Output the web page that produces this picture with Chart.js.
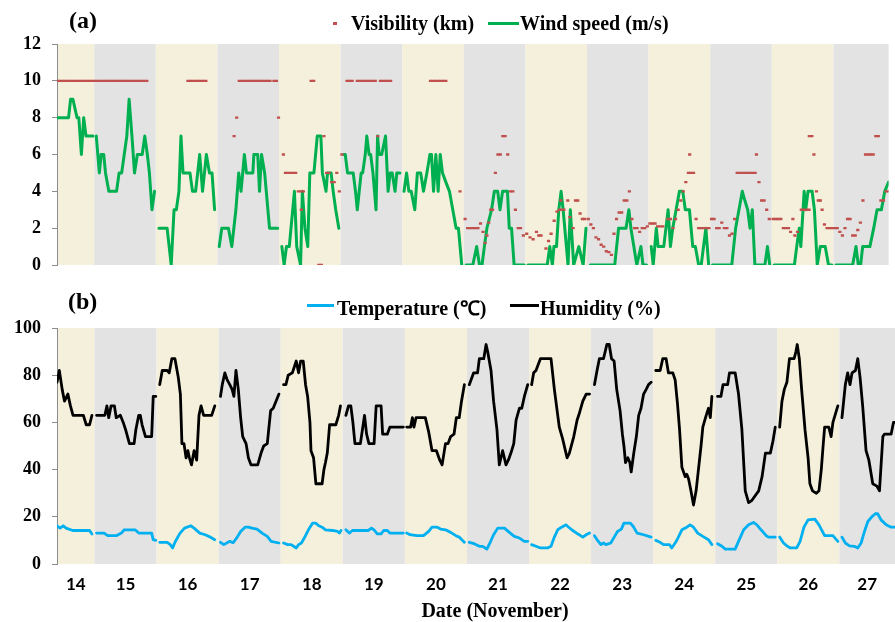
<!DOCTYPE html>
<html>
<head>
<meta charset="utf-8">
<title>Visibility, wind speed, temperature and humidity, 14-27 November</title>
<script src="https://cdn.jsdelivr.net/npm/chart.js@4.4.1/dist/chart.umd.min.js"></script>
<style>
    body { margin: 0; background: #fff; }
    #page {
        position: relative; width: 895px; height: 622px; overflow: hidden;
        font-family: "Liberation Serif", "Times New Roman", serif; font-weight: bold; color: #000;
    }
    canvas { position: absolute; left: 0; }
    .txt { position: absolute; font-size: 20px; line-height: 24px; white-space: nowrap; }
    .tag { font-size: 24px; line-height: 28px; }
    .key { position: absolute; height: 3px; }
</style>
</head>
<body>
<div id="page">
    <canvas id="panelA" width="895" height="290" style="top:0"></canvas>
    <canvas id="panelB" width="895" height="332" style="top:290px"></canvas>

    <div class="txt tag" style="left:69px; top:6px">(a)</div>
    <div class="key" style="left:333px; top:22px; width:4px; background:#C0504D"></div>
    <div class="txt" style="left:351px; top:11px">Visibility (km)</div>
    <div class="key" style="left:488px; top:22px; width:31px; background:#00B050"></div>
    <div class="txt" style="left:520px; top:11px">Wind speed (m/s)</div>

    <div class="txt tag" style="left:68px; top:287px">(b)</div>
    <div class="key" style="left:307px; top:304px; width:27px; background:#00B0F0"></div>
    <div class="txt" style="left:337px; top:296px">Temperature (℃)</div>
    <div class="key" style="left:510px; top:304px; width:29px; background:#000"></div>
    <div class="txt" style="left:540px; top:296px">Humidity (%)</div>

    <div class="txt" style="left:495px; top:598px; transform:translateX(-50%)">Date (November)</div>
</div>

<script>
// x values are hours counted from 00:00 on 14 November
const days = [14, 15, 16, 17, 18, 19, 20, 21, 22, 23, 24, 25, 26, 27];
const dayLabels = ['14', '15', '16', '17', '18', '19', '20', '21', '22', '23', '24', '25', '26', '27'];
const xMin = 9.5;
const xMax = 333.5;
const visTicks = [0, 2, 4, 6, 8, 10, 12];
const rhTicks = [0, 20, 40, 60, 80, 100];

// Wind speed (m/s), one block per day
const windSpeed = [
    [[9.5,8],[14,8],[14.8,9],[15.7,9],[17.3,8],[18,8],[19,6],[19.9,8],[20.8,7],[23.5,7]],
    [[24.8,7],[26,5],[26.7,6],[27.7,6],[28.4,5],[29.7,4],[32.7,4],[33.7,5],[34.7,5],[35.7,6],[36.7,7],[37.6,9],[38.7,7],[39.7,5],[40.8,6],[42.7,6],[43.7,7],[44.7,6],[45.5,5],[46.5,3],[47.5,4]],
    [[49.2,2],[52.4,2],[54,0],[55.1,3],[56,3],[57,4],[57.8,7],[58.6,5],[61.3,5],[62.3,4],[63.5,4],[65.1,6],[66.2,4],[67.7,6],[68.9,5],[69.9,5],[70.9,3]],
    [[72.7,1],[73.7,2],[76.3,2],[77.6,1],[79.2,3],[80.3,5],[81.2,4],[82.5,6],[83.3,5],[85.8,5],[86.2,6],[87.7,6],[88.4,4],[89.2,6],[90.4,5],[92.3,2],[95.5,2]],
    [[97.1,1],[98,0],[98.9,1],[100,1],[102,4],[102.9,1],[104.4,0],[105.1,4],[106.1,2],[107.2,1],[108,5],[109.6,5],[110.9,7],[112.3,7],[112.9,5],[114.3,4],[114.9,5],[116.3,5],[117.1,4],[118.1,3],[119.3,2]],
    [[121.2,6],[121.8,6],[122.7,5],[124.9,5],[125.8,4],[126.5,3],[128,5],[128.6,5],[129.6,6],[130.2,7],[131.1,6],[131.7,6],[132.6,5],[133.8,3],[134.4,7],[135,6],[136,6],[137.5,7],[138.5,4],[139.3,5],[140.1,5],[141.2,4],[141.9,5],[143.1,5]],
    [[144.7,4],[145.7,5],[146.6,4],[147.5,4],[148.9,3],[149.9,5],[151.2,5],[152.3,4],[153.6,5],[154.8,6],[155.4,6],[156.2,4],[157.1,6],[158,4],[158.8,6],[159.7,5],[161,4.5],[162.4,4],[163.7,3],[165,2],[165.9,2],[167.2,0]],
    [[168.9,0],[171.5,0],[173,1],[174.1,0],[175.1,0],[176,1],[177,2],[178.8,3],[179.9,4],[181.2,4],[182.1,3],[183.1,4],[185,4],[185.7,2],[186.6,2],[187.6,0],[191.5,0]],
    [[193,0],[200.5,0],[201.5,1],[202.5,0],[203.1,1],[204.1,1],[205,3],[205.9,4],[206.7,3],[208.6,0],[209.5,3],[210.8,0],[212.8,1],[214.5,0],[215.6,2]],
    [[217.3,0],[226.8,0],[228.3,2],[231.2,2],[232.3,3],[233.1,2],[235.4,0],[237,1],[237.8,0],[239.2,0]],
    [[241,1],[241.8,0],[243,2],[243.7,1],[245.9,1],[247.6,3],[248.5,1],[249.4,2],[250.7,3],[252,4],[253.3,4],[254.3,3],[255.9,3],[257.2,1],[258.2,1],[259.5,0],[260.5,0],[262.3,2],[263.4,0]],
    [[264.9,0],[272.4,0],[273.9,2],[275.2,3],[276.5,4],[277.5,3.5],[278.6,3],[279.5,2],[280.4,3],[281.4,0],[285.3,0],[286.3,1],[287.2,0]],
    [[288.9,0],[296.8,0],[297.7,1],[298.7,2],[299.3,1],[300.6,4],[301.2,3],[302.1,4],[303.7,4],[304.6,3],[305.7,0],[306.9,1],[308.8,1],[310.1,0],[311.4,0]],
    [[313,0],[319.5,0],[320.8,1],[321.7,0],[322.6,0],[323.4,1],[326.2,1],[327.7,2],[329,3],[330.7,3],[332,4],[333.5,4.5]]
];

// Visibility (km), hourly readings drawn as short dashes
const visibility = [
    [9.5,10],[10.5,10],[11.5,10],[12.5,10],[13.5,10],[14.5,10],[15.5,10],[16.5,10],[17.5,10],[18.5,10],[19.5,10],[20.5,10],[21.5,10],[22.5,10],[23.5,10],
    [24.5,10],[25.5,10],[26.5,10],[27.5,10],[28.5,10],[29.5,10],[30.5,10],[31.5,10],[32.5,10],[33.5,10],[34.5,10],[35.5,10],[36.5,10],[37.5,10],[38.5,10],[39.5,10],[40.5,10],[41.5,10],[42.5,10],[43.5,10],[44.5,10],
    [60.5,10],[61.5,10],[62.5,10],[63.5,10],[64.5,10],[65.5,10],[66.5,10],[67.5,10],
    [78.5,7],[79.5,8],[80.5,10],[81.5,10],[82.5,10],[83.5,10],[84.5,10],[85.5,10],[86.5,10],[87.5,10],[88.5,10],[89.5,10],[90.5,10],[91.5,10],[92.5,10],[94,10],[95,10],[95.8,8],
    [97.7,6],[98.5,5],[99.5,5],[100.5,5],[101.5,5],[102.5,5],[103.5,4],[104.5,4],[105.5,4],[104.7,3],[108.5,10],[109.5,10],[111.5,0],[112.5,0],[113.5,7],[114.5,5],[115.5,5],[116.5,4.5],[117.5,4.5],[118.5,5],[119.5,4],
    [120.5,6],[122.5,10],[123.5,10],[124.5,10],[126.5,10],[127.5,10],[128.5,10],[129.5,10],[130.5,10],[131.5,10],[132.5,10],[133.5,10],[134.5,7],[135.5,10],[136.5,10],[137.5,10],[138.5,10],[139.5,10],
    [155,10],[156,10],[157,10],[158,10],[159,10],[160,10],[161,10],[166.5,4],
    [168.5,2.5],[169.5,2],[170.5,2],[171.5,2],[172.5,2],[173.5,2],[174.5,2.25],[175.5,1.8],[176.3,1.2],[177,1.6],[177.7,2.3],[178.5,3],[179.2,3],[180.3,5],[181.3,6],[182.2,6],[183.2,7],[184.1,7],[185.1,6],[186.2,4],[187.1,4],[188.1,3],[189.2,2],[190.1,2],[191.2,1.6],
    [192.5,1.7],[193.8,1.5],[195,1.4],[196.3,1.8],[197.2,1.6],[198.1,1.6],[200,0.9],[201,1.3],[202,1.7],[203.2,2.4],[204.3,2.9],[205.2,3],[206.1,3],[207,3],[205.8,3.5],[208.5,3.5],[209.3,2.6],[210.6,2],[211.5,3.5],[212.4,3.5],[213.3,2.8],[214.2,2.5],[215.1,2.5],
    [216.5,2.5],[217.5,2.2],[218.5,2],[219.5,1.5],[220.5,1.4],[221.5,1.1],[222.5,1],[223.5,0.75],[224.5,0.7],[225.5,0.55],[226.5,1.7],[227.5,2.5],[228.5,2.85],[229.5,2.85],[230.5,3.5],[231.5,3.5],[232.5,4],[233.5,2.5],[234.5,2],[235.5,2],[236.5,1.8],[237.5,2],[238.5,2],[239.5,2.1],
    [240.5,2.25],[241.5,2.25],[242.5,2.25],[243.5,2.1],[244.5,2.1],[245.5,2.1],[247.5,2.5],[248.5,2.5],[249.5,2],[250.5,2.5],[251.5,3],[252.5,3.5],[253.5,4],[254.5,4.5],[255.5,5],[256.5,5],[257.5,5],[256,6],[258.5,2.5],[259.5,2],[260.5,2],[261.5,2],[262.5,2],[263.5,2],
    [264.5,2.5],[265.5,2.5],[266.5,2],[267.5,2],[268.5,2.3],[269.5,2],[270.5,2],[271.5,1.6],[272.5,1.7],[273.5,2.5],[274.5,5],[275.5,5],[276.5,5],[277.5,5],[278.5,5],[279.5,5],[280.5,5],[281.5,5],[282,6],[283,4.5],[284,3.5],[285,3.5],[286,3],[287,2.5],
    [288.5,2.5],[289.5,2.5],[290.5,2.5],[291.5,2.5],[292.5,2],[293.5,2],[294.5,2],[295.3,1.8],[296.2,2.5],[297,1.6],[298,1.8],[299.5,3],[300.5,3],[301.5,3],[302.5,3],[302.6,7],[303.6,7],[304.4,6],[305.4,4],[306.1,3.5],[306.9,3.5],[307.6,3],[308.5,2.2],[309.5,2],[310.5,2],[311.5,2],
    [312.5,2],[313.5,2],[314.5,1.8],[315.5,1.6],[316.5,2],[317.5,2.5],[318.5,2.5],[319.5,1.6],[320.5,1.6],[321.5,1.9],[322.5,2.3],[323.5,3.5],[324.5,6],[325.5,6],[326.5,6],[327.5,6],[328.5,7],[329.5,7],[330.5,3.5],[331.5,3.5],[332.5,4],[333.5,4]
];

// Temperature (deg C), one block per day
const temperature = [
    [[9.5,16.2],[10.7,15.2],[11.9,16.2],[13,15.2],[15.6,14.2],[22.1,14.2],[23,12.7]],
    [[24.8,13.1],[27.7,13.1],[29.1,12],[32.4,12],[34.4,13.1],[35.5,14.5],[39.7,14.5],[41.1,13.1],[46.1,13.1],[46.7,10.3],[47.7,10]],
    [[49.2,9.2],[52.1,9.2],[53.3,8.2],[54.2,6.8],[55.1,9.2],[57,13],[58.8,15.2],[61.3,16.2],[62.5,15.2],[64.7,13.1],[66.8,12.4],[68.7,11.4],[70.5,10.3]],
    [[72.7,9.2],[74,8.2],[76.3,9.6],[77.6,9],[79.2,11.4],[80.5,13.8],[82.2,15.6],[83.5,15.6],[84.9,15.2],[86.8,14.8],[88.8,13.1],[90.8,11.7],[92.3,9.6],[95.3,8.9]],
    [[97.1,8.9],[98.7,8.2],[100,8.2],[101,7.5],[102,6.8],[102.9,8.2],[104,8.9],[105.1,11],[106.7,14.5],[108.3,17.3],[109.6,17.3],[110.7,16.2],[112,15.6],[113.3,14.5],[116,14.2],[118,13.8],[118.7,13.1],[119.3,14.2]],
    [[121.2,14.5],[122.5,13.1],[123.7,14.2],[129.8,14.2],[131.1,15.2],[132.3,14.2],[133.3,12.8],[134.8,12.8],[135.8,14.2],[137.2,14.2],[138.2,13.1],[143.4,13.1]],
    [[144.7,13.1],[146,12.4],[148.6,12],[151.2,12],[153.2,13.8],[154.5,15.6],[156.5,15.6],[157.8,14.8],[159.7,14.5],[161.7,13.4],[163.7,12],[165,11.4],[166.3,10],[167,9.2]],
    [[168.9,9.2],[170.8,8.6],[172.8,7.5],[174.1,7.5],[175.7,6.3],[177,9.2],[178.3,12.4],[179.9,15.2],[182.5,15.2],[184.4,13.4],[186.3,11.7],[188.3,11],[190.2,9.6],[191.5,9.6]],
    [[193,8.2],[194.7,7.5],[196.4,6.8],[199.2,6.8],[200.5,7.5],[201.8,11.4],[203.1,14.5],[204.6,15.6],[206.3,16.6],[207,15.9],[208.5,14.5],[210.8,12.8],[212.8,11.4],[214.1,12.4],[215.4,13.1]],
    [[217.3,12],[218.5,10],[219.8,8.2],[220.8,8.9],[221.7,8.2],[223.6,8.9],[225.1,11.7],[226.2,13.8],[227.7,14.8],[228.7,17.3],[231.2,17.3],[232.3,15.9],[233.8,13.1],[236.3,12.4],[239.2,11.4]],
    [[241,10],[242.7,9.2],[244,8.2],[246.3,8.2],[247.2,6.8],[248.5,8.9],[249.4,10.6],[251.1,14.5],[253,15.6],[254.3,16.6],[255.6,15.6],[257.2,13.1],[259.2,11.7],[261.4,10.3],[262.7,8.2]],
    [[264.9,8.6],[266.6,7.5],[267.9,6.3],[271.7,6.3],[273,9.6],[275,14.5],[276.9,16.6],[278.8,17.6],[280.1,16.6],[281.7,14.5],[283.7,12],[284.6,11.4],[287.2,11.4]],
    [[288.9,11.4],[290.4,8.9],[291.7,7.7],[293,6.8],[295.5,6.8],[296.8,9.6],[298.3,15.6],[299.9,18.7],[302.5,19],[304.1,16.6],[306.3,12],[309.5,12],[311.4,9.6]],
    [[313,11.4],[314.3,8.9],[315.9,7.7],[317.8,7.5],[319.1,6.8],[320.4,8.9],[321.7,13.8],[323,18],[324.6,20.1],[325.9,21.3],[326.8,21.3],[328.1,18.7],[330.1,16.6],[332,15.6],[333.5,15.6]]
];

// Relative humidity (%), one block per day
const humidity = [
    [[9.5,77],[10.4,82],[11.5,74],[12.4,69],[13.7,72],[14.7,67],[15.7,63],[19.7,63],[20.8,59],[22.1,59],[23,63]],
    [[24.8,63],[28,63],[28.8,67],[29.5,62],[30.4,67],[31.7,67],[32.4,62],[34,63],[35.1,60],[36,57],[37.5,51],[39.3,51],[40,57],[41.1,63],[41.7,63],[42.4,59],[43.7,54],[46.1,54],[46.7,71],[47.7,71]],
    [[49.2,76],[50.2,82],[52.1,82],[52.9,81],[53.9,87],[55.1,87],[56.4,79],[57.2,72],[57.8,51],[58.6,51],[59.4,45],[60.1,48],[60.7,45],[61.5,42],[62.5,48],[63.5,44],[64.4,63],[65.2,67],[66.2,63],[69.3,63],[70.5,67]],
    [[72.7,71],[73.4,76],[74.4,81],[75.3,78],[76.3,76],[77.2,74],[77.9,71],[78.7,82],[79.6,74],[80.5,62],[81.3,54],[82.6,51],[83.5,45],[84.5,42],[87.1,42],[88.4,47],[89.4,50],[90.8,51],[92.1,65],[93.1,66],[95.3,72]],
    [[97.1,76],[98,76],[98.9,80],[100.5,81],[102,86],[102.9,81],[103.7,86],[104.7,86],[105.6,76],[106.4,71],[107.3,60],[107.7,48],[108.7,45],[109.6,34],[112,34],[112.7,40],[113.3,43],[114,47],[114.9,59],[117.3,59],[118.4,63],[119.1,67]],
    [[121.2,63],[122.2,67],[123.1,67],[123.9,60],[124.7,51],[126.8,51],[127.6,57],[128.4,63],[129.2,55],[130.1,51],[132.1,51],[132.9,67],[134.8,67],[135.4,55],[137.2,55],[138.2,58],[143.4,58]],
    [[144.7,58],[146.2,58],[146.9,62],[147.5,58],[148.3,62],[151.9,62],[153.2,56],[154.5,48],[156.2,48],[157.5,44],[158.4,42],[159.7,51],[160.7,51],[161.7,54],[163,55],[163.9,62],[165,62],[165.9,69],[167,76]],
    [[168.9,76],[170.6,81],[172.1,81],[172.8,87],[174.5,87],[175.4,93],[176,90],[177.3,82],[178.3,69],[179.6,57],[180.5,42],[181.8,48],[183.1,42],[184,44],[185,47],[186.1,51],[187,61],[188.3,66],[189.2,66],[190.2,71],[191.5,76]],
    [[193,76],[193.8,81],[194.7,82],[196.4,87],[200.5,87],[201.8,74],[203.7,58],[205,53],[206.7,45],[207.6,47],[209.3,54],[210.6,61],[211.5,64],[212.8,69],[214.1,72],[215.4,72]],
    [[217.3,76],[218.3,82],[219.2,87],[220.8,87],[222.1,93],[223,93],[223.9,87],[224.9,86],[225.9,74],[227.2,65],[228.1,55],[228.7,50],[229.3,43],[230.2,45],[231,43],[231.5,39],[232.5,47],[233.5,54],[234.4,63],[235.3,66],[236.3,72],[237.3,74],[238.2,76],[239.2,77]],
    [[241,82],[242.7,82],[243.7,87],[245,87],[245.9,81],[247.6,81],[248.5,78],[249.4,68],[250.2,57],[251.1,41],[252.4,37],[253,38],[253.7,36],[254.6,31],[255.6,25],[256.6,31],[257.5,40],[258.5,50],[259.2,58],[260.5,63],[261.4,66],[262.1,62],[262.7,71]],
    [[264.9,71],[266.2,71],[267,76],[268.8,76],[269.5,81],[271.7,81],[273,72],[274.3,57],[275.6,31],[276.9,26],[278.2,27],[279.5,29],[280.8,31],[282.1,37],[283.4,47],[285.3,47],[286.3,52],[287.2,58]],
    [[288.9,58],[289.8,69],[290.7,74],[291.7,77],[292.7,87],[294.5,87],[295.2,90],[295.7,93],[296.5,87],[297.4,74],[298.7,57],[299.9,45],[300.6,34],[301.6,31],[303.1,30],[304.1,31],[305,40],[305.7,50],[306.3,58],[307.9,58],[308.8,54],[309.5,60],[311.4,67]],
    [[313,62],[314.3,76],[315.2,81],[316.1,76],[316.9,81],[318.2,82],[319.1,87],[320,79],[321,67],[322.3,48],[323.4,44],[324.9,34],[326.5,33],[327.5,31],[328.8,54],[329.4,55],[332,55],[332.9,60],[333.5,60]]
];

const RED = '#C0504D';
const GREEN = '#00B050';
const BLUE = '#00B0F0';
const BEIGE = '#F5F0DC';
const GREY = '#E3E3E3';
const AXIS_GREY = '#8C8C8C';

// Join the daily blocks, leaving a break in the line between days
function joinDays(blocks) {
    const out = [];
    blocks.forEach((block, i) => {
        if (i > 0) out.push({ x: (days[i] - 14) * 24, y: null });
        block.forEach(([x, y]) => out.push({ x, y }));
    });
    return out;
}

// Alternating day bands behind each panel
const dayBands = {
    id: 'dayBands',
    beforeDraw(chart) {
        const { ctx, chartArea: a, scales: { x } } = chart;
        ctx.save();
        ctx.beginPath();
        ctx.rect(a.left, a.top, a.width, a.height);
        ctx.clip();
        days.forEach((d, i) => {
            const x0 = x.getPixelForValue((d - 14) * 24);
            const x1 = x.getPixelForValue((d - 13) * 24);
            ctx.fillStyle = i % 2 ? GREY : BEIGE;
            ctx.fillRect(x0, a.top, x1 - x0, a.height);
        });
        ctx.restore();
    }
};

const tickFont = { family: '"Liberation Serif", "Times New Roman", serif', size: 18, weight: 'bold' };

function yAxis(max, ticks) {
    return {
        min: 0,
        max: max,
        afterBuildTicks: (scale) => { scale.ticks = ticks.map(v => ({ value: v })); },
        afterFit: (scale) => { scale.width = 57; },
        ticks: { font: tickFont, color: '#000', padding: 11 },
        grid: { drawOnChartArea: false, tickLength: 5, color: AXIS_GREY },
        border: { color: AXIS_GREY, width: 1 }
    };
}

// Day labels sit in the middle of the visible part of each day
const dayTickPos = days.map(d => (Math.max((d - 14) * 24, xMin) + Math.min((d - 13) * 24, xMax)) / 2);

const common = {
    responsive: false,
    animation: false,
    events: [],
    plugins: { legend: { display: false }, tooltip: { enabled: false } },
    elements: { point: { radius: 0 }, line: { tension: 0, borderJoinStyle: 'round', borderCapStyle: 'round' } }
};

new Chart(document.getElementById('panelA'), {
    type: 'line',
    data: {
        datasets: [{
            label: 'Visibility (km)',
            data: visibility.map(([x, y]) => ({ x, y })),
            showLine: false,
            pointStyle: 'line',
            pointRadius: 1.6,
            pointBorderWidth: 2.4,
            pointBorderColor: RED,
            borderColor: RED
        }, {
            label: 'Wind speed (m/s)',
            data: joinDays(windSpeed),
            borderColor: GREEN,
            borderWidth: 3,
            pointRadius: 0,
            spanGaps: false
        }]
    },
    options: {
        ...common,
        layout: { padding: { top: 44, bottom: 25, left: 0, right: 0 } },
        scales: {
            x: { type: 'linear', min: xMin, max: xMax, display: false },
            y: yAxis(12, visTicks)
        }
    },
    plugins: [dayBands]
});

new Chart(document.getElementById('panelB'), {
    type: 'line',
    data: {
        datasets: [{
            label: 'Temperature (℃)',
            data: joinDays(temperature),
            borderColor: BLUE,
            borderWidth: 2.8,
            pointRadius: 0,
            spanGaps: false
        }, {
            label: 'Humidity (%)',
            data: joinDays(humidity),
            borderColor: '#000',
            borderWidth: 2.8,
            pointRadius: 0,
            spanGaps: false
        }]
    },
    options: {
        ...common,
        layout: { padding: { top: 38, bottom: 0, left: 0, right: 0 } },
        scales: {
            x: {
                type: 'linear',
                min: xMin,
                max: xMax,
                afterBuildTicks: (scale) => { scale.ticks = dayTickPos.map(v => ({ value: v })); },
                afterFit: (scale) => { scale.height = 58; },
                ticks: {
                    autoSkip: false,
                    maxRotation: 0,
                    padding: 2,
                    color: '#000',
                    font: { family: 'Lato, "Open Sans", sans-serif', size: 17, weight: 'bold' },
                    callback: (value, index) => dayLabels[index]
                },
                grid: { display: false },
                border: { display: false }
            },
            y: yAxis(100, rhTicks)
        }
    },
    plugins: [dayBands]
});
</script>
</body>
</html>
